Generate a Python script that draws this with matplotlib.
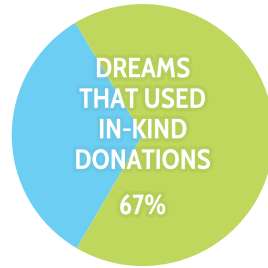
import matplotlib
matplotlib.use("Agg")
import matplotlib.pyplot as plt
import matplotlib.patheffects as pe

# slice values (percent)
labels = ["Other", "In-kind"]
values = [33, 67]
colors = ["#6dcef3", "#bed75c"]

title_lines = ["DREAMS", "THAT USED", "IN-KIND", "DONATIONS"]
pct_text = "67%"

fig = plt.figure(figsize=(2.68, 2.68), dpi=100)
ax = fig.add_axes([0, 0, 1, 1])

ax.pie(values, colors=colors, startangle=121, counterclock=True,
       radius=1.0, center=(0, 0), wedgeprops=dict(linewidth=0))

ax.set_xlim(-1.089, 0.956)
ax.set_ylim(-1.015, 1.031)
ax.set_aspect("equal")
ax.axis("off")

font = dict(family=["Cabin Condensed", "DejaVu Sans"], fontweight="bold",
            fontsize=20, color="white")
glow = [pe.withStroke(linewidth=5, foreground="#3a4a20", alpha=0.06)]
ax.text(0.0, 0.145, "\n".join(title_lines), ha="center", va="center",
        linespacing=1.12, path_effects=glow, **font)
ax.text(0.0, -0.55, pct_text, ha="center", va="center", path_effects=glow, **font)

fig.savefig("out.png", dpi=100)
